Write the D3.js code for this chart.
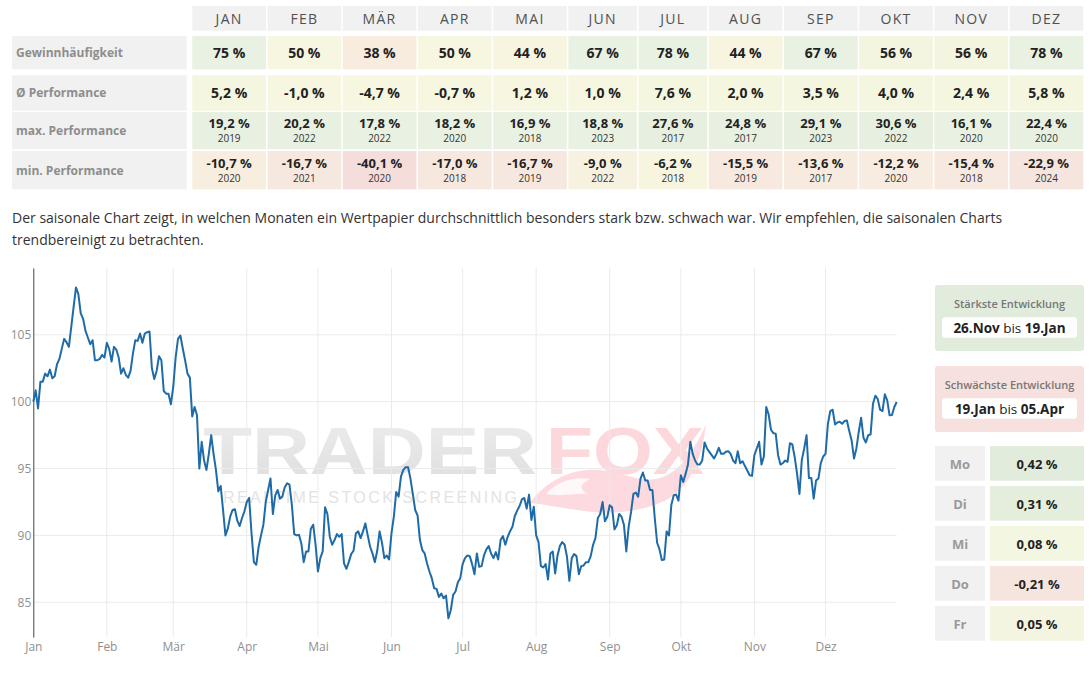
<!DOCTYPE html>
<html>
<head>
<meta charset="utf-8">
<script src="https://cdn.jsdelivr.net/npm/d3@7"></script>
<style>
  body { margin: 0; background: #fff; }
  svg { display: block; font-family: "Open Sans", sans-serif; }
</style>
</head>
<body>
<div id="page"></div>
<script>
// table values
var months = ["JAN", "FEB", "MÄR", "APR", "MAI", "JUN", "JUL", "AUG", "SEP", "OKT", "NOV", "DEZ"];
var rowLabels = ["Gewinnhäufigkeit", "Ø Performance", "max. Performance", "min. Performance"];
var winRate = [75, 50, 38, 50, 44, 67, 78, 44, 67, 56, 56, 78];
var avgPerf = [5.2, -1.0, -4.7, -0.7, 1.2, 1.0, 7.6, 2.0, 3.5, 4.0, 2.4, 5.8];
var maxPerf = [19.2, 20.2, 17.8, 18.2, 16.9, 18.8, 27.6, 24.8, 29.1, 30.6, 16.1, 22.4];
var maxYear = [2019, 2022, 2022, 2020, 2018, 2023, 2017, 2017, 2023, 2022, 2020, 2020];
var minPerf = [-10.7, -16.7, -40.1, -17.0, -16.7, -9.0, -6.2, -15.5, -13.6, -12.2, -15.4, -22.9];
var minYear = [2020, 2021, 2020, 2018, 2019, 2022, 2018, 2019, 2017, 2020, 2018, 2024];

// side panel values
var strongest = ["26.Nov", "19.Jan"];
var weakest = ["19.Jan", "05.Apr"];
var weekdays = ["Mo", "Di", "Mi", "Do", "Fr"];
var weekdayPerf = [0.42, 0.31, 0.08, -0.21, 0.05];

// chart values: one value per calendar day, per month
var axisMonths = ["Jan", "Feb", "Mär", "Apr", "Mai", "Jun", "Jul", "Aug", "Sep", "Okt", "Nov", "Dez"];
var yTicks = [85, 90, 95, 100, 105];
var jan = [100.0, 100.85, 99.5, 101.5, 101.5, 102.1, 101.9, 102.4, 101.75, 101.9, 102.8, 103.2, 103.95, 104.7, 104.45, 104.1,
           105.6, 107.1, 108.55, 108.05, 106.6, 106.2, 105.3, 104.8, 104.3, 104.6, 103.1, 103.1, 103.2, 103.5, 103.3];
var feb = [104.4, 103.95, 103.0, 104.1, 103.9, 103.3, 102.1, 102.5, 102.0, 101.8, 102.3, 103.6, 104.6, 104.55, 105.1, 104.4,
           105.1, 105.2, 105.25, 102.5, 101.7, 102.3, 103.4, 103.1, 100.8, 100.6, 100.6, 99.8];
var mar = [101.1, 103.3, 104.7, 104.95, 104.0, 103.1, 102.1, 101.8, 98.9, 99.6, 99.0, 95.0, 97.0, 95.6, 94.9, 96.1,
           97.5, 96.1, 94.9, 93.3, 93.7, 91.9, 90.0, 90.5, 91.4, 91.9, 91.95, 91.1, 90.7, 91.3, 91.8];
var apr = [92.5, 92.8, 90.15, 88.0, 87.8, 89.15, 90.0, 90.8, 92.5, 93.4, 94.25, 91.6, 93.0, 93.4, 92.75, 92.9,
           93.6, 93.9, 93.8, 92.3, 90.1, 90.0, 90.05, 89.4, 88.0, 88.8, 88.8, 90.5, 90.8, 89.3];
var mai = [87.3, 88.3, 88.8, 92.1, 91.6, 89.9, 89.3, 89.65, 90.1, 89.9, 90.1, 87.9, 87.5, 88.0, 88.6, 88.85,
           90.15, 90.3, 89.8, 90.3, 90.9, 90.0, 89.15, 88.65, 88.0, 88.85, 90.3, 89.45, 88.3, 88.5, 88.2];
var jun = [90.15, 91.4, 93.25, 92.9, 94.4, 94.9, 95.1, 95.1, 94.25, 93.1, 91.9, 91.5, 89.65, 88.9, 88.65, 87.9,
           87.3, 86.8, 86.05, 86.0, 85.4, 85.65, 85.3, 85.5, 83.8, 84.4, 85.55, 85.8, 86.5, 86.8];
var jul = [87.85, 88.3, 88.5, 88.45, 87.85, 87.1, 88.65, 87.65, 87.7, 88.5, 88.95, 89.2, 88.65, 88.3, 88.75, 88.2,
           89.65, 89.95, 89.3, 89.9, 90.3, 90.65, 91.45, 91.85, 92.2, 92.7, 92.8, 92.0, 93.05, 91.15, 92.15];
var aug = [90.0, 89.5, 87.7, 87.6, 87.85, 86.7, 88.65, 88.8, 87.15, 88.5, 89.2, 89.5, 89.3, 88.4, 86.6, 88.3,
           88.6, 88.45, 87.1, 87.7, 87.75, 88.0, 88.0, 88.45, 89.3, 89.8, 91.3, 91.6, 92.5, 91.05, 91.4];
var sep = [92.25, 92.1, 90.45, 90.75, 91.6, 91.4, 90.8, 88.8, 90.65, 91.75, 93.1, 93.2, 92.9, 94.25, 94.7, 94.1,
           94.1, 93.4, 93.4, 91.3, 89.45, 88.95, 88.15, 88.2, 90.3, 90.0, 92.3, 93.0, 93.05, 92.6];
var okt = [94.5, 94.0, 94.6, 95.3, 97.0, 96.1, 95.6, 95.3, 95.3, 95.6, 96.95, 96.5, 96.25, 96.0, 95.75, 96.1,
           96.55, 96.1, 96.1, 96.25, 96.3, 96.1, 95.6, 95.4, 96.3, 95.4, 95.55, 95.2, 94.85, 94.5, 94.45];
var nov = [96.0, 96.5, 97.0, 95.3, 95.9, 99.6, 99.05, 97.9, 97.65, 97.6, 96.0, 95.3, 95.4, 95.6, 95.5, 96.9,
           96.8, 95.85, 94.6, 93.1, 95.65, 96.5, 97.5, 94.3, 94.3, 92.75, 94.1, 94.25, 95.4, 95.9];
var dez = [96.1, 98.35, 99.3, 99.4, 98.3, 98.45, 98.5, 98.35, 98.55, 98.6, 97.8, 97.1, 95.75, 96.5, 97.75, 98.8,
           97.3, 96.95, 97.5, 97.55, 99.85, 100.45, 100.2, 99.4, 99.3, 100.55, 100.1, 98.98, 99.0, 99.6, 99.98];


var W = 1092, H = 677;

var de = d3.formatLocale({decimal: ",", thousands: ".", grouping: [3], currency: ["", " €"], minus: "-"});
var f1 = de.format(".1f"), f2 = de.format(".2f");

var svg = d3.select("#page").append("svg")
    .attr("width", W)
    .attr("height", H);


// ---------- table ----------
var tableLeft = 192.3, tableRight = 1083.3, colGap = 1.5, cellPad = 8;
var labelX = 12, labelW = 174.7;
var header = {top: 6, h: 24.7};
var rowBox = [{top: 36, h: 33.3}, {top: 75.3, h: 35.4}, {top: 112, h: 37.3}, {top: 151, h: 38.3}];

function textWidth(str, size, weight) {
    var t = svg.append("text")
        .attr("font-size", size)
        .attr("font-weight", weight)
        .text(str);
    var w = t.node().getComputedTextLength();
    t.remove();
    return w;
}

// auto width like a html table: widest content per column, then stretched
var baseW = months.map(function(m, i) {
    return d3.max([
        textWidth(m, 14, 400) + 4,
        textWidth(winRate[i] + " %", 14, 700),
        textWidth(f1(avgPerf[i]) + " %", 14, 700),
        textWidth(f1(maxPerf[i]) + " %", 13, 700),
        textWidth(f1(minPerf[i]) + " %", 13, 700)
    ]) + 2 * cellPad;
});
var k = (tableRight - tableLeft - colGap * (months.length - 1)) / d3.sum(baseW);
var colW = baseW.map(function(w) { return w * k; });
var colX = [];
colW.reduce(function(acc, w, i) { colX[i] = acc; return acc + w + colGap; }, tableLeft);

var winColor = d3.scaleLinear().domain([38, 44, 50, 56, 67]).range(["#f8ecdf", "#f7f5e0", "#f7f6e1", "#f3f5e0", "#e9f1e2"]).clamp(true);
var avgColor = d3.scaleLinear().domain([-5, 8]).range(["#f7f6e1", "#f4f6e0"]).clamp(true);
var maxColor = d3.scaleLinear().domain([15, 31]).range(["#e9f1e3", "#e6efe0"]).clamp(true);
var minColor = d3.scaleLinear().domain([-40, -22, -15, -10, -6]).range(["#f5dddc", "#f6e4de", "#f7e9df", "#f7efdf", "#f7f5e0"]).clamp(true);

var table = svg.append("g").attr("class", "table");

// header
months.forEach(function(m, i) {
    table.append("rect")
        .attr("x", colX[i]).attr("y", header.top)
        .attr("width", colW[i]).attr("height", header.h)
        .attr("fill", "#f1f1f1");
    table.append("text")
        .attr("x", colX[i] + colW[i] / 2)
        .attr("y", header.top + header.h / 2 + 5.3)
        .attr("text-anchor", "middle")
        .attr("font-size", 14)
        .attr("letter-spacing", 1.3)
        .attr("fill", "#505050")
        .text(m);
});

// row labels
rowLabels.forEach(function(l, r) {
    table.append("rect")
        .attr("x", labelX).attr("y", rowBox[r].top)
        .attr("width", labelW).attr("height", rowBox[r].h)
        .attr("fill", "#f1f1f1");
    table.append("text")
        .attr("x", labelX + 4)
        .attr("y", rowBox[r].top + rowBox[r].h / 2 + 4.4)
        .attr("font-size", 12)
        .attr("font-weight", 700)
        .attr("fill", "#8d8d8d")
        .text(l);
});

var rows = [
    {vals: winRate, txt: function(v) { return v + " %"; }, color: winColor},
    {vals: avgPerf, txt: function(v) { return f1(v) + " %"; }, color: avgColor},
    {vals: maxPerf, txt: function(v) { return f1(v) + " %"; }, color: maxColor, years: maxYear},
    {vals: minPerf, txt: function(v) { return f1(v) + " %"; }, color: minColor, years: minYear}
];

rows.forEach(function(row, r) {
    var top = rowBox[r].top, h = rowBox[r].h, mid = top + h / 2;
    var cell = table.selectAll(".c" + r)
        .data(row.vals)
        .enter().append("g")
        .attr("class", "c" + r);

    cell.append("rect")
        .attr("x", function(d, i) { return colX[i]; })
        .attr("y", top)
        .attr("width", function(d, i) { return colW[i]; })
        .attr("height", h)
        .attr("fill", function(d) { return row.color(d); });

    cell.append("text")
        .attr("x", function(d, i) { return colX[i] + colW[i] / 2; })
        .attr("y", row.years ? mid - 2.6 : mid + 5.3)
        .attr("text-anchor", "middle")
        .attr("font-size", row.years ? 13 : 14)
        .attr("font-weight", 700)
        .attr("fill", "#222")
        .text(row.txt);

    if (row.years) {
        cell.append("text")
            .attr("x", function(d, i) { return colX[i] + colW[i] / 2; })
            .attr("y", mid + 11.8)
            .attr("text-anchor", "middle")
            .attr("font-size", 10)
            .attr("fill", "#333")
            .text(function(d, i) { return row.years[i]; });
    }
});


// ---------- paragraph ----------
var para = svg.append("text")
    .attr("font-size", 14)
    .attr("fill", "#333");
para.append("tspan").attr("x", 12).attr("y", 223)
    .text("Der saisonale Chart zeigt, in welchen Monaten ein Wertpapier durchschnittlich besonders stark bzw. schwach war. Wir empfehlen, die saisonalen Charts");
para.append("tspan").attr("x", 12).attr("y", 245)
    .text("trendbereinigt zu betrachten.");


// ---------- chart ----------
var plot = {left: 33.3, right: 896.7, top: 268, bottom: 637};

var series = [];
[jan, feb, mar, apr, mai, jun, jul, aug, sep, okt, nov, dez].forEach(function(vals, m) {
    vals.forEach(function(v, i) {
        series.push({date: new Date(2023, m, i + 1), value: v});
    });
});

var x = d3.scaleTime()
    .domain([new Date(2023, 0, 1), new Date(2023, 11, 31)])
    .range([plot.left, plot.right]);

var y = d3.scaleLinear()
    .domain([82.4, 110])
    .range([plot.bottom, plot.top]);

var chart = svg.append("g").attr("class", "chart");

// watermark (logo behind the plot)
var wm = chart.append("g").attr("class", "watermark");
var grad = svg.append("defs").append("linearGradient")
    .attr("id", "wmGrad").attr("x1", 0).attr("y1", 0).attr("x2", 0).attr("y2", 1);
grad.append("stop").attr("offset", "0%").attr("stop-color", "#ededed");
grad.append("stop").attr("offset", "100%").attr("stop-color", "#dedede");

wm.append("path")
    .attr("d", "M530,503 C548,478 575,468 600,470 C625,472 640,484 660,478 C680,472 695,450 706,424 " +
               "C702,460 690,486 668,499 C645,512 610,515 585,511 C560,508 542,504 530,503 Z")
    .attr("fill", "#fbd4d9")
    .attr("opacity", 0.85);
wm.append("path")
    .attr("d", "M546,494 C556,482 574,476 590,479 C580,484 578,489 588,494 C574,493 562,497 546,494 Z")
    .attr("fill", "#fff")
    .attr("opacity", 0.8);
wm.append("text")
    .attr("x", 203).attr("y", 474)
    .attr("font-family", "Liberation Sans, Arial, sans-serif")
    .attr("font-size", 66).attr("font-weight", 700)
    .attr("textLength", 334).attr("lengthAdjust", "spacingAndGlyphs")
    .attr("fill", "url(#wmGrad)")
    .text("TRADER");
wm.append("text")
    .attr("x", 546).attr("y", 474)
    .attr("font-family", "Liberation Sans, Arial, sans-serif")
    .attr("font-size", 66).attr("font-weight", 700)
    .attr("textLength", 158).attr("lengthAdjust", "spacingAndGlyphs")
    .attr("fill", "#fcd8dd")
    .text("FOX");
wm.append("text")
    .attr("x", 223).attr("y", 503)
    .attr("font-family", "Liberation Sans, Arial, sans-serif")
    .attr("font-size", 16)
    .attr("textLength", 294).attr("lengthAdjust", "spacing")
    .attr("fill", "#e3e3e3")
    .text("REALTIME STOCK SCREENING");

// grid
chart.append("g")
    .selectAll("line")
    .data(yTicks)
    .enter().append("line")
    .attr("x1", plot.left).attr("x2", plot.right)
    .attr("y1", function(d) { return y(d); })
    .attr("y2", function(d) { return y(d); })
    .attr("stroke", "#ebebeb");

chart.append("g")
    .selectAll("line")
    .data(x.ticks(d3.timeMonth.every(1)).slice(1))
    .enter().append("line")
    .attr("x1", function(d) { return x(d); })
    .attr("x2", function(d) { return x(d); })
    .attr("y1", plot.top).attr("y2", plot.bottom)
    .attr("stroke", "#ebebeb");

// x axis labels
var xAxis = chart.append("g")
    .attr("transform", "translate(0," + plot.bottom + ")")
    .call(d3.axisBottom(x)
        .ticks(d3.timeMonth.every(1))
        .tickFormat(function(d) { return axisMonths[d.getMonth()]; })
        .tickSize(0)
        .tickPadding(5));
xAxis.select(".domain").remove();
xAxis.selectAll("text")
    .attr("font-family", "Open Sans, sans-serif")
    .attr("font-size", 12)
    .attr("fill", "#8f8f8f");

// y axis
var yAxis = chart.append("g")
    .attr("transform", "translate(" + plot.left + ",0)")
    .call(d3.axisLeft(y)
        .tickValues(yTicks)
        .tickSize(0)
        .tickSizeOuter(0)
        .tickPadding(2));
yAxis.select(".domain").attr("stroke", "#444");
yAxis.selectAll("text")
    .attr("font-family", "Open Sans, sans-serif")
    .attr("font-size", 12)
    .attr("fill", "#8f8f8f");

// line
chart.append("path")
    .datum(series)
    .attr("fill", "none")
    .attr("stroke", "#1f6ba8")
    .attr("stroke-width", 2)
    .attr("stroke-linejoin", "round")
    .attr("d", d3.line()
        .x(function(d) { return x(d.date); })
        .y(function(d) { return y(d.value); }));


// ---------- side panel ----------
var side = svg.append("g").attr("class", "side");
var boxX = 935, boxW = 149;
var boxes = [
    {title: "Stärkste Entwicklung", range: strongest, top: 285, fill: "#e1ecdd"},
    {title: "Schwächste Entwicklung", range: weakest, top: 366, fill: "#f6e1de"}
];

boxes.forEach(function(b) {
    side.append("rect")
        .attr("x", boxX).attr("y", b.top)
        .attr("width", boxW).attr("height", 66)
        .attr("rx", 3)
        .attr("fill", b.fill);
    side.append("text")
        .attr("x", boxX + boxW / 2).attr("y", b.top + 22.5)
        .attr("text-anchor", "middle")
        .attr("font-size", 11)
        .attr("font-weight", 600)
        .attr("fill", "#777")
        .text(b.title);
    side.append("rect")
        .attr("x", boxX + 7).attr("y", b.top + 32.3)
        .attr("width", boxW - 14).attr("height", 20.4)
        .attr("rx", 3)
        .attr("fill", "#fff");
    var t = side.append("text")
        .attr("x", boxX + boxW / 2).attr("y", b.top + 47.5)
        .attr("text-anchor", "middle")
        .attr("font-size", 13.5)
        .attr("fill", "#222");
    t.append("tspan").attr("font-weight", 700).text(b.range[0]);
    t.append("tspan").text(" bis ");
    t.append("tspan").attr("font-weight", 700).text(b.range[1]);
});

var wdY = d3.scaleBand()
    .domain(weekdays)
    .range([446, 640.7])
    .paddingInner(0.1325);

var wdColor = d3.scaleLinear()
    .domain([-0.21, 0, 0.1, 0.3, 0.42])
    .range(["#f6e4df", "#f5f4e0", "#f3f6e1", "#e5eedd", "#e2ecdc"]);

var wd = side.selectAll(".wd")
    .data(weekdayPerf)
    .enter().append("g")
    .attr("class", "wd")
    .attr("transform", function(d, i) { return "translate(0," + wdY(weekdays[i]) + ")"; });

wd.append("rect")
    .attr("x", boxX).attr("width", 50)
    .attr("height", wdY.bandwidth())
    .attr("fill", "#f1f1f1");
wd.append("text")
    .attr("x", boxX + 25)
    .attr("y", wdY.bandwidth() / 2 + 5.3)
    .attr("text-anchor", "middle")
    .attr("font-size", 13)
    .attr("font-weight", 700)
    .attr("fill", "#9a9a9a")
    .text(function(d, i) { return weekdays[i]; });
wd.append("rect")
    .attr("x", 990).attr("width", 94)
    .attr("height", wdY.bandwidth())
    .attr("fill", function(d) { return wdColor(d); });
wd.append("text")
    .attr("x", 1037)
    .attr("y", wdY.bandwidth() / 2 + 5.3)
    .attr("text-anchor", "middle")
    .attr("font-size", 13)
    .attr("font-weight", 700)
    .attr("fill", "#222")
    .text(function(d) { return f2(d) + " %"; });
</script>
</body>
</html>
